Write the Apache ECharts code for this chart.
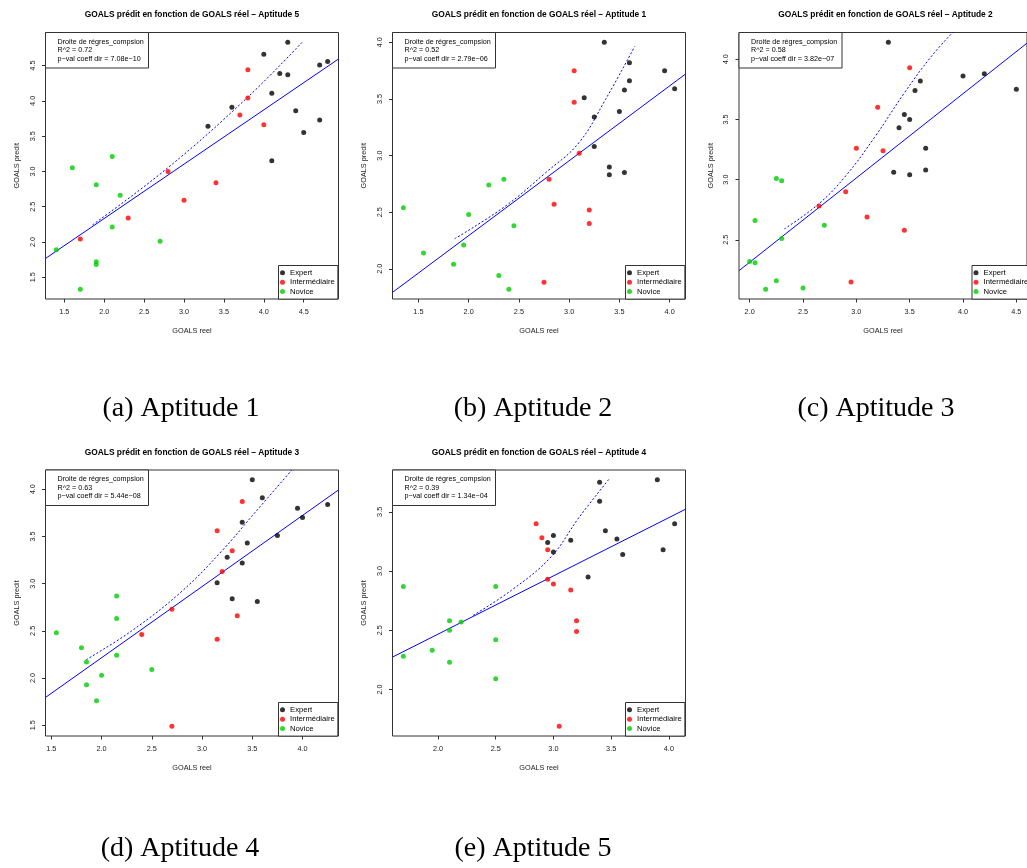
<!DOCTYPE html>
<html><head><meta charset="utf-8">
<script src="https://cdn.jsdelivr.net/npm/echarts@6/dist/echarts.min.js"></script>
<style>html,body{margin:0;padding:0;background:#fff}#c{width:1027px;height:868px}</style>
</head><body><div id="c"></div>
<script>
// ---------- data ----------
const panelTitles = [
  'GOALS prédit en fonction de GOALS réel – Aptitude 5',
  'GOALS prédit en fonction de GOALS réel – Aptitude 1',
  'GOALS prédit en fonction de GOALS réel – Aptitude 2',
  'GOALS prédit en fonction de GOALS réel – Aptitude 3',
  'GOALS prédit en fonction de GOALS réel – Aptitude 4'
];
const captions = ['(a) Aptitude 1','(b) Aptitude 2','(c) Aptitude 3','(d) Aptitude 4','(e) Aptitude 5'];
const r2Labels = ['R^2 = 0.72','R^2 = 0.52','R^2 = 0.58','R^2 = 0.63','R^2 = 0.39'];
const pvalLabels = ['p−val coeff dir = 7.08e−10','p−val coeff dir = 2.79e−06','p−val coeff dir = 3.82e−07','p−val coeff dir = 5.44e−08','p−val coeff dir = 1.34e−04'];
const groupNames = ['Expert','Intermédiaire','Novice'];

const expertA = [[4.3,4.83],[4.0,4.66],[4.2,4.39],[4.3,4.37],[4.7,4.51],[4.8,4.56],[4.1,4.11],[3.6,3.91],[3.3,3.64],[4.4,3.86],[4.5,3.55],[4.7,3.73],[4.1,3.15]];
const interA  = [[3.8,4.44],[3.8,4.04],[3.7,3.80],[4.0,3.66],[2.8,3.00],[3.4,2.84],[3.0,2.59],[2.3,2.34],[1.7,2.04]];
const noviceA = [[1.4,1.89],[1.6,3.05],[2.1,3.21],[1.9,2.81],[2.2,2.66],[2.1,2.21],[2.7,2.01],[1.9,1.72],[1.9,1.68],[1.7,1.33]];

const expertB = [[3.35,4.00],[3.6,3.82],[3.95,3.75],[3.6,3.66],[3.55,3.58],[4.05,3.59],[3.15,3.51],[3.5,3.39],[3.25,3.34],[3.25,3.08],[3.4,2.90],[3.4,2.83],[3.55,2.85]];
const interB  = [[3.05,3.75],[3.05,3.47],[3.1,3.02],[2.8,2.79],[2.85,2.57],[3.2,2.52],[3.2,2.40],[2.75,1.88]];
const noviceB = [[1.35,2.54],[1.55,2.14],[2.0,2.48],[2.2,2.74],[2.35,2.79],[2.45,2.38],[1.95,2.21],[1.85,2.04],[2.3,1.94],[2.4,1.82]];

const expertC = [[3.3,4.14],[3.6,3.82],[3.55,3.74],[4.0,3.86],[4.2,3.88],[4.5,3.75],[3.45,3.54],[3.5,3.50],[3.4,3.43],[3.65,3.26],[3.35,3.06],[3.5,3.04],[3.65,3.08]];
const interC  = [[3.5,3.93],[3.2,3.60],[3.0,3.26],[3.25,3.24],[2.9,2.90],[2.65,2.78],[3.1,2.69],[3.45,2.58],[2.95,2.15]];
const noviceC = [[2.25,3.01],[2.3,2.99],[2.05,2.66],[2.7,2.62],[2.3,2.51],[2.0,2.32],[2.05,2.31],[2.25,2.16],[2.15,2.09],[2.5,2.10]];

const expertD = [[3.5,4.10],[3.6,3.91],[3.95,3.80],[4.0,3.70],[4.25,3.84],[3.4,3.65],[3.75,3.51],[3.45,3.43],[3.25,3.28],[3.4,3.22],[3.15,3.01],[3.3,2.84],[3.55,2.81]];
const interD  = [[3.4,3.87],[3.15,3.56],[3.3,3.35],[3.2,3.13],[2.7,2.73],[3.35,2.66],[3.15,2.41],[2.4,2.46],[2.7,1.49]];
const noviceD = [[1.55,2.48],[1.8,2.32],[1.85,2.17],[2.15,2.87],[2.15,2.63],[2.15,2.24],[2.0,2.03],[2.5,2.09],[1.85,1.93],[1.95,1.76]];

const expertE = [[3.4,3.75],[3.9,3.77],[3.4,3.59],[3.45,3.34],[4.05,3.40],[3.0,3.30],[2.95,3.24],[3.15,3.26],[3.55,3.27],[3.0,3.16],[3.6,3.14],[3.95,3.18],[3.3,2.95]];
const interE  = [[2.85,3.40],[2.9,3.28],[2.95,3.18],[2.95,2.93],[3.0,2.89],[3.15,2.84],[3.2,2.58],[3.2,2.49],[3.05,1.69]];
const noviceE = [[1.7,2.87],[2.5,2.87],[2.1,2.58],[2.2,2.57],[2.1,2.50],[2.5,2.42],[1.95,2.33],[1.7,2.28],[2.1,2.23],[2.5,2.09]];

// regression line: [intercept, slope]
const fitA = [0.791, 0.7705];
const fitB = [0.970, 0.6614];
const fitC = [0.9135, 0.700];
const fitD = [0.707, 0.754];
const fitE = [1.483, 0.492];

// dotted curve points
const curveA = [[1.854,2.242],[2.793,3.047],[3.79,4.043],[4.483,4.835]];
const curveB = [[1.861,2.265],[2.365,2.553],[2.764,2.847],[3.096,3.112],[3.361,3.494],[3.653,3.965]];
const curveC = [[2.325,2.59],[2.65,2.80],[2.9,3.03],[3.17,3.35],[3.45,3.72],[3.7,4.02],[3.908,4.227]];
const curveD = [[1.847,2.195],[2.3,2.5],[2.8,2.92],[3.2,3.35],[3.5,3.72],[3.893,4.204]];
const curveE = [[2.305,2.626],[2.64,2.84],[2.98,3.12],[3.22,3.45],[3.483,3.778]];

const xTicksA = [1.5,2.0,2.5,3.0,3.5,4.0,4.5], yTicksA = [1.5,2.0,2.5,3.0,3.5,4.0,4.5];
const xTicksB = [1.5,2.0,2.5,3.0,3.5,4.0],     yTicksB = [2.0,2.5,3.0,3.5,4.0];
const xTicksC = [2.0,2.5,3.0,3.5,4.0,4.5],     yTicksC = [2.5,3.0,3.5,4.0];
const xTicksD = [1.5,2.0,2.5,3.0,3.5,4.0],     yTicksD = [1.5,2.0,2.5,3.0,3.5,4.0];
const xTicksE = [2.0,2.5,3.0,3.5,4.0],         yTicksE = [2.0,2.5,3.0,3.5];

// ---------- build ----------
const panels = [
  {g:[expertA,interA,noviceA], fit:fitA, curve:curveA, xt:xTicksA, yt:yTicksA},
  {g:[expertB,interB,noviceB], fit:fitB, curve:curveB, xt:xTicksB, yt:yTicksB},
  {g:[expertC,interC,noviceC], fit:fitC, curve:curveC, xt:xTicksC, yt:yTicksC},
  {g:[expertD,interD,noviceD], fit:fitD, curve:curveD, xt:xTicksD, yt:yTicksD},
  {g:[expertE,interE,noviceE], fit:fitE, curve:curveE, xt:xTicksE, yt:yTicksE}
];
const boxes = [
  {left:45.5, top:32.5, width:293, height:266.5},
  {left:392.5, top:32.5, width:293, height:266.5},
  {left:739, top:32.5, width:293, height:266.5},
  {left:45.5, top:470, width:293, height:266},
  {left:392.5, top:470, width:293, height:266}
];
const captionPos = [[181,409],[533,409],[876,409],[180,849],[533,849]];
const FONT = 'Liberation Sans';
const colors = ['#000000','#ff0000','#00cd00'];

function rng(v){ const lo=Math.min(...v), hi=Math.max(...v), d=(hi-lo)*0.04; return [lo-d, hi+d]; }

const grid=[], xAxis=[], yAxis=[], series=[], legend=[], graphic=[];
panels.forEach((p,i)=>{
  const b = boxes[i];
  const all = p.g[0].concat(p.g[1], p.g[2]);
  const xr = rng(all.map(d=>d[0])), yr = rng(all.map(d=>d[1]));
  grid.push({left:b.left, top:b.top, width:b.width, height:b.height, show:true, borderColor:'#333', borderWidth:1, backgroundColor:'transparent'});
  xAxis.push({gridIndex:i, type:'value', min:xr[0], max:xr[1],
    axisLine:{show:false}, splitLine:{show:false},
    axisTick:{show:true, length:3.5, customValues:p.xt, lineStyle:{color:'#333', width:1}},
    axisLabel:{customValues:p.xt, fontSize:7.3, fontFamily:FONT, color:'#222', margin:9, formatter:v=>v.toFixed(1)},
    name:'GOALS reel', nameLocation:'middle', nameGap:28, nameTextStyle:{fontSize:7.3, fontFamily:FONT, color:'#222'}});
  yAxis.push({gridIndex:i, type:'value', min:yr[0], max:yr[1],
    axisLine:{show:false}, splitLine:{show:false},
    axisTick:{show:true, length:3.5, customValues:p.yt, lineStyle:{color:'#333', width:1}},
    axisLabel:{customValues:p.yt, rotate:90, fontSize:7.3, fontFamily:FONT, color:'#222', margin:9.5, formatter:v=>v.toFixed(1)},
    name:'GOALS predit', nameLocation:'middle', nameGap:25, nameRotate:90, nameTextStyle:{fontSize:7.3, fontFamily:FONT, color:'#222'}});
  groupNames.forEach((n,k)=>{
    series.push({type:'scatter', name:n, xAxisIndex:i, yAxisIndex:i, data:p.g[k], symbol:'circle', symbolSize:5,
      itemStyle:{color:colors[k]}, z:3, silent:true});
  });
  series.push({type:'line', name:'fit', xAxisIndex:i, yAxisIndex:i, clip:true, showSymbol:false, silent:true,
    data:[[xr[0], p.fit[0]+p.fit[1]*xr[0]],[xr[1], p.fit[0]+p.fit[1]*xr[1]]],
    lineStyle:{color:'#0000ff', width:1}, z:2});
  series.push({type:'line', name:'curve', xAxisIndex:i, yAxisIndex:i, clip:true, showSymbol:false, silent:true, smooth:0.4,
    data:p.curve, lineStyle:{color:'#0000ff', width:1, type:[2,2]}, z:2});
  legend.push({orient:'vertical', left:b.left+b.width-60, top:b.top+b.height-33.5, itemWidth:5, itemHeight:5, itemGap:1.4,
    padding:[3.3,3,3.5,1.5], borderColor:'#333', borderWidth:1, backgroundColor:'#fff', icon:'circle',
    textStyle:{fontSize:7.7, lineHeight:8, fontFamily:FONT, color:'#000'}, data:groupNames, selectedMode:false});
  // title
  graphic.push({type:'text', x:b.left+146.5, y:(i>=3?452.5:15), z:10, style:{text:panelTitles[i], fontSize:8.4, fontWeight:'bold', fontFamily:FONT, fill:'#000', textAlign:'center', textVerticalAlign:'middle'}});
  // regression legend box
  graphic.push({type:'rect', x:b.left, y:b.top, z:10, shape:{width:103, height:35.5}, style:{fill:'#fff', stroke:'#333', lineWidth:1}});
  [ 'Droite de régres_compsion', r2Labels[i], pvalLabels[i] ].forEach((t,k)=>{
    graphic.push({type:'text', x:b.left+12, y:b.top+9.5+k*8.4, z:11, style:{text:t, fontSize:7.2, fontFamily:FONT, fill:'#000', textAlign:'left', textVerticalAlign:'middle'}});
  });
  graphic.push({type:'text', x:captionPos[i][0], y:captionPos[i][1], z:10, style:{text:captions[i], fontSize:28, fontFamily:'Liberation Serif', fill:'#000', textAlign:'center', textVerticalAlign:'middle'}});
});

const chart = echarts.init(document.getElementById('c'), null, {renderer:'canvas'});
chart.setOption({animation:false, backgroundColor:'#fff', grid, xAxis, yAxis, series, legend, graphic});
</script></body></html>
